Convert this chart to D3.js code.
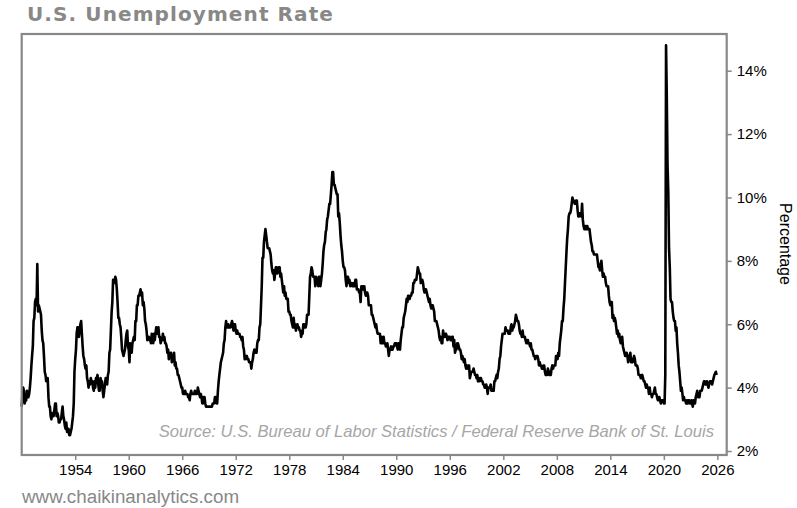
<html>
<head>
<meta charset="utf-8">
<script src="https://d3js.org/d3.v7.min.js"></script>
<style>
  body {margin: 0; background: #fff;}
  text {font-family: "Liberation Sans", Arial, sans-serif;}
</style>
</head>
<body>
<svg width="797" height="508"></svg>
<script>

// monthly U.S. unemployment rate (%), starting January 1948
var startYear = 1948;
var rates1940s = [
  3.4,3.8,4.0,3.9,3.5,3.6,3.6,3.9,3.8,3.7,3.8,4.0,
  4.3,4.7,5.0,5.3,6.1,6.2,6.7,6.8,6.6,7.9,6.4,6.6];
var rates1950s = [
  6.5,6.4,6.3,5.8,5.5,5.4,5.0,4.5,4.4,4.2,4.2,4.3,
  3.7,3.4,3.4,3.1,3.0,3.2,3.1,3.1,3.3,3.5,3.5,3.1,
  3.2,3.1,2.9,2.9,3.0,3.0,3.2,3.4,3.1,3.0,2.8,2.7,
  2.9,2.6,2.6,2.7,2.5,2.5,2.6,2.7,2.9,3.1,3.5,4.5,
  4.9,5.2,5.7,5.9,5.9,5.6,5.8,6.0,6.1,5.7,5.3,5.0,
  4.9,4.7,4.6,4.7,4.3,4.2,4.0,4.2,4.1,4.3,4.2,4.2,
  4.0,3.9,4.2,4.0,4.3,4.3,4.4,4.1,3.9,3.9,4.3,4.2,
  4.2,3.9,3.7,3.9,4.1,4.3,4.2,4.1,4.4,4.5,5.1,5.2,
  5.8,6.4,6.7,7.4,7.4,7.3,7.5,7.4,7.1,6.7,6.2,6.2,
  6.0,5.9,5.6,5.2,5.1,5.0,5.1,5.2,5.5,5.7,5.8,5.3];
var rates1960s = [
  5.2,4.8,5.4,5.2,5.1,5.4,5.5,5.6,5.5,6.1,6.1,6.6,
  6.6,6.9,6.9,7.0,7.1,6.9,7.0,6.6,6.7,6.5,6.1,6.0,
  5.8,5.5,5.6,5.6,5.5,5.5,5.4,5.7,5.6,5.4,5.7,5.5,
  5.7,5.9,5.7,5.7,5.9,5.6,5.6,5.4,5.5,5.5,5.7,5.5,
  5.6,5.4,5.4,5.3,5.1,5.2,4.9,5.0,5.1,5.1,4.8,5.0,
  4.9,5.1,4.7,4.8,4.6,4.6,4.4,4.4,4.3,4.2,4.1,4.0,
  4.0,3.8,3.8,3.8,3.9,3.8,3.8,3.8,3.7,3.7,3.6,3.8,
  3.9,3.8,3.8,3.8,3.8,3.9,3.8,3.8,3.8,4.0,3.9,3.8,
  3.7,3.8,3.7,3.5,3.5,3.7,3.7,3.5,3.4,3.4,3.4,3.4,
  3.4,3.4,3.4,3.4,3.4,3.5,3.5,3.5,3.7,3.7,3.5,3.5];
var rates1970s = [
  3.9,4.2,4.4,4.6,4.8,4.9,5.0,5.1,5.4,5.5,5.9,6.1,
  5.9,5.9,6.0,5.9,5.9,5.9,6.0,6.1,6.0,5.8,6.0,6.0,
  5.8,5.7,5.8,5.7,5.7,5.7,5.6,5.6,5.5,5.6,5.3,5.2,
  4.9,5.0,4.9,5.0,4.9,4.9,4.8,4.8,4.8,4.6,4.8,4.9,
  5.1,5.2,5.1,5.1,5.1,5.4,5.5,5.5,5.9,6.0,6.6,7.2,
  8.1,8.1,8.6,8.8,9.0,8.8,8.6,8.4,8.4,8.4,8.3,8.2,
  7.9,7.7,7.6,7.7,7.4,7.6,7.8,7.8,7.6,7.7,7.8,7.8,
  7.5,7.6,7.4,7.2,7.0,7.2,6.9,7.0,6.8,6.8,6.8,6.4,
  6.4,6.3,6.3,6.1,6.0,5.9,6.2,5.9,6.0,5.8,5.9,6.0,
  5.9,5.9,5.8,5.8,5.6,5.7,5.7,6.0,5.9,6.0,5.9,6.0];
var rates1980s = [
  6.3,6.3,6.3,6.9,7.5,7.6,7.8,7.7,7.5,7.5,7.5,7.2,
  7.5,7.4,7.4,7.2,7.5,7.5,7.2,7.4,7.6,7.9,8.3,8.5,
  8.6,8.9,9.0,9.3,9.4,9.6,9.8,9.8,10.1,10.4,10.8,10.8,
  10.4,10.4,10.3,10.2,10.1,10.1,9.4,9.5,9.2,8.8,8.5,8.3,
  8.0,7.8,7.8,7.7,7.4,7.2,7.5,7.5,7.3,7.4,7.2,7.3,
  7.3,7.2,7.2,7.3,7.2,7.4,7.4,7.1,7.1,7.1,7.0,7.0,
  6.7,7.2,7.2,7.1,7.2,7.2,7.0,6.9,7.0,7.0,6.9,6.6,
  6.6,6.6,6.6,6.3,6.3,6.2,6.1,6.0,5.9,6.0,5.8,5.7,
  5.7,5.7,5.7,5.4,5.6,5.4,5.4,5.6,5.4,5.4,5.3,5.3,
  5.4,5.2,5.0,5.2,5.2,5.3,5.2,5.2,5.3,5.3,5.4,5.4];
var rates1990s = [
  5.4,5.3,5.2,5.4,5.4,5.2,5.5,5.7,5.9,5.9,6.2,6.3,
  6.4,6.6,6.8,6.7,6.9,6.9,6.8,6.9,6.9,7.0,7.0,7.3,
  7.3,7.4,7.4,7.4,7.6,7.8,7.7,7.6,7.6,7.3,7.4,7.4,
  7.3,7.1,7.0,7.1,7.1,7.0,6.9,6.8,6.7,6.8,6.6,6.5,
  6.6,6.6,6.5,6.4,6.1,6.1,6.1,6.0,5.9,5.8,5.6,5.5,
  5.6,5.4,5.4,5.8,5.6,5.6,5.7,5.7,5.6,5.5,5.6,5.6,
  5.6,5.5,5.5,5.6,5.6,5.3,5.5,5.1,5.2,5.2,5.4,5.4,
  5.3,5.2,5.2,5.1,4.9,5.0,4.9,4.8,4.9,4.7,4.6,4.7,
  4.6,4.6,4.7,4.3,4.4,4.5,4.5,4.5,4.6,4.5,4.4,4.4,
  4.3,4.4,4.2,4.3,4.2,4.3,4.3,4.2,4.2,4.1,4.1,4.0];
var rates2000s = [
  4.0,4.1,4.0,3.8,4.0,4.0,4.0,4.1,3.9,3.9,3.9,3.9,
  4.2,4.2,4.3,4.4,4.3,4.5,4.6,4.9,5.0,5.3,5.5,5.7,
  5.7,5.7,5.7,5.9,5.8,5.8,5.8,5.7,5.7,5.7,5.9,6.0,
  5.8,5.9,5.9,6.0,6.1,6.3,6.2,6.1,6.1,6.0,5.8,5.7,
  5.7,5.6,5.8,5.6,5.6,5.6,5.5,5.4,5.4,5.5,5.4,5.4,
  5.3,5.4,5.2,5.2,5.1,5.0,5.0,4.9,5.0,5.0,5.0,4.9,
  4.7,4.8,4.7,4.7,4.6,4.6,4.7,4.7,4.5,4.4,4.5,4.4,
  4.6,4.5,4.4,4.5,4.4,4.6,4.7,4.6,4.7,4.7,4.7,5.0,
  5.0,4.9,5.1,5.0,5.4,5.6,5.8,6.1,6.1,6.5,6.8,7.3,
  7.8,8.3,8.7,9.0,9.4,9.5,9.5,9.6,9.8,10.0,9.9,9.9];
var rates2010s = [
  9.8,9.8,9.9,9.9,9.6,9.4,9.4,9.5,9.5,9.4,9.8,9.3,
  9.1,9.0,9.0,9.1,9.0,9.1,9.0,9.0,9.0,8.8,8.6,8.5,
  8.3,8.3,8.2,8.2,8.2,8.2,8.2,8.0,7.8,7.8,7.7,7.9,
  8.0,7.7,7.5,7.6,7.5,7.5,7.3,7.2,7.2,7.2,6.9,6.7,
  6.6,6.7,6.7,6.2,6.3,6.1,6.2,6.1,5.9,5.7,5.8,5.6,
  5.7,5.5,5.4,5.4,5.6,5.3,5.2,5.1,5.0,5.0,5.1,5.0,
  4.8,4.9,5.0,5.1,4.8,4.9,4.8,4.9,5.0,4.9,4.7,4.7,
  4.7,4.6,4.4,4.4,4.4,4.3,4.3,4.4,4.3,4.2,4.2,4.1,
  4.0,4.1,4.0,4.0,3.8,4.0,3.8,3.8,3.7,3.8,3.8,3.9,
  4.0,3.8,3.8,3.7,3.6,3.6,3.7,3.6,3.5,3.6,3.6,3.6];
var rates2020s = [
  3.5,3.5,4.4,14.8,13.2,11.0,10.2,8.4,7.8,6.8,6.7,6.7,
  6.4,6.2,6.1,6.1,5.8,5.9,5.4,5.1,4.7,4.5,4.2,3.9,
  4.0,3.8,3.6,3.7,3.6,3.6,3.5,3.6,3.5,3.6,3.6,3.5,
  3.5,3.6,3.5,3.4,3.6,3.6,3.5,3.7,3.8,3.9,3.7,3.8,
  3.7,3.9,3.9,3.9,4.0,4.1,4.2,4.2,4.1,4.1,4.2,4.1,
  4.0,4.1,4.2,4.2,4.2,4.1,4.2,4.3,4.4,null,4.5,4.4];

var xTickYears = [1954,1960,1966,1972,1978,1984,1990,1996,2002,2008,2014,2020,2026];
var yTickValues = [2,4,6,8,10,12,14];

var monthly = [].concat(rates1940s, rates1950s, rates1960s, rates1970s, rates1980s,
                        rates1990s, rates2000s, rates2010s, rates2020s);
var data = [];
monthly.forEach(function(v, i) {
  if (v != null) data.push({date: new Date(startYear, i, 1), rate: v});
});

var plotLeft = 21.7, plotRight = 726.7, plotTop = 34, plotBottom = 455;

var x = d3.scaleTime()
  .domain([new Date(1948, 0, 1), new Date(2027, 0, 19)])
  .range([plotLeft, plotRight]);
var y = d3.scaleLinear().domain([1.874, 15.158]).range([plotBottom, plotTop]);

var svg = d3.select("svg");

// title
svg.append("text").attr("x", 27).attr("y", 21)
  .style("font-family", "'DejaVu Sans', Verdana, sans-serif")
  .style("font-weight", "bold").style("font-size", "20px")
  .style("letter-spacing", "1.1px")
  .attr("fill", "#888").text("U.S. Unemployment Rate");

// the line
var line = d3.line()
  .x(function(d) { return x(d.date); })
  .y(function(d) { return y(d.rate); });
svg.append("path").datum(data)
  .attr("d", line)
  .attr("fill", "none").attr("stroke", "#000")
  .attr("stroke-width", 2.6).attr("stroke-linejoin", "round");

// frame
svg.append("rect").attr("x", plotLeft).attr("y", plotTop)
  .attr("width", plotRight - plotLeft).attr("height", plotBottom - plotTop)
  .attr("fill", "none").attr("stroke", "#888").attr("stroke-width", 2.2);

var x_axis = d3.axisBottom(x)
  .tickValues(xTickYears.map(function(yr) { return new Date(yr, 0, 1); }))
  .tickFormat(d3.timeFormat("%Y")).tickSize(5).tickPadding(4);
var gx = svg.append("g").attr("transform", "translate(0," + plotBottom + ")").call(x_axis);

var y_axis = d3.axisRight(y)
  .tickValues(yTickValues)
  .tickFormat(function(d) { return d + "%"; }).tickSize(5).tickPadding(5);
var gy = svg.append("g").attr("transform", "translate(" + plotRight + ",0)").call(y_axis);

[gx, gy].forEach(function(g) {
  g.select(".domain").remove();
  g.selectAll(".tick line").attr("stroke", "#888").attr("stroke-width", 1.5);
  g.selectAll(".tick text").attr("fill", "#000")
    .style("font-family", "'Liberation Sans', Arial, sans-serif").style("font-size", "15px");
});

svg.append("text").attr("transform", "translate(780,244) rotate(90)")
  .attr("text-anchor", "middle").style("font-size", "16px")
  .attr("fill", "#000").text("Percentage");

svg.append("text").attr("x", 714).attr("y", 437).attr("text-anchor", "end")
  .style("font-style", "italic").style("font-size", "16.6px")
  .attr("fill", "#a6a6a6")
  .text("Source: U.S. Bureau of Labor Statistics / Federal Reserve Bank of St. Louis");

svg.append("text").attr("x", 22).attr("y", 503)
  .style("font-size", "18.8px").attr("fill", "#888")
  .text("www.chaikinanalytics.com");

</script>
</body>
</html>
